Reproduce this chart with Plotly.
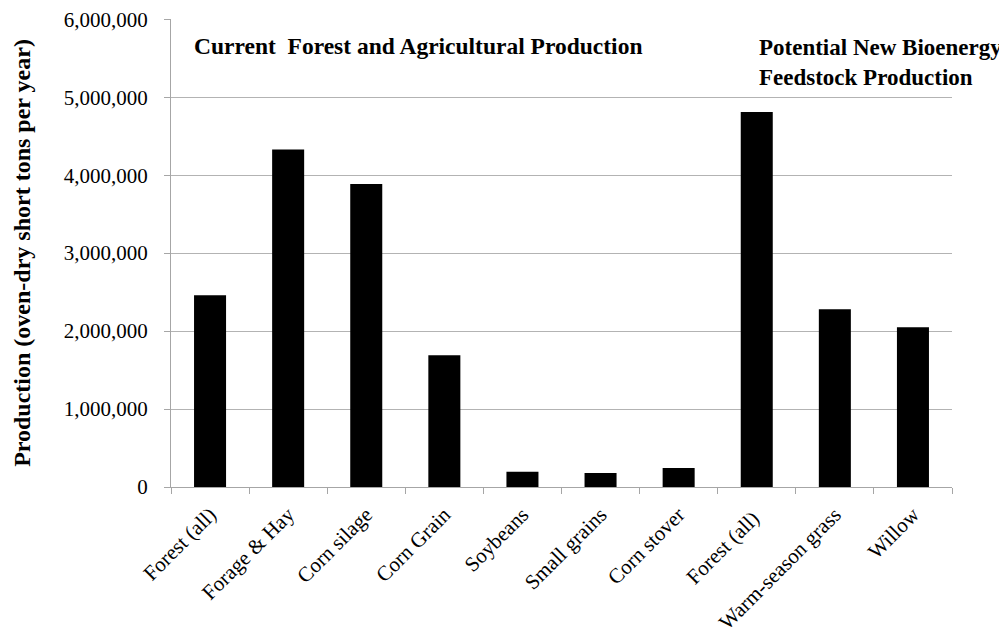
import plotly.graph_objects as go

categories = ["Forest (all)", "Forage & Hay", "Corn silage", "Corn Grain", "Soybeans",
              "Small grains", "Corn stover", "Forest (all) ", "Warm-season grass", "Willow"]
values = [2460000, 4330000, 3885000, 1690000, 195000, 180000, 245000, 4810000, 2280000, 2050000]
yticks = [0, 1000000, 2000000, 3000000, 4000000, 5000000, 6000000]

font_family = "Liberation Serif, Times New Roman, serif"

# page body has an 8px offset; target plot area: x 171..952, y 19..487
OFF = 8
W, H = 1007 - OFF, 638 - OFF
L, T = 171 - OFF, 19 - OFF
R = W - (952 - OFF)
B = H - (487 - OFF)
PW, PH = 952 - 171, 487 - 19

fig = go.Figure()
fig.add_trace(go.Bar(x=categories, y=values, marker=dict(color="black", line=dict(width=0)),
                     width=0.41, showlegend=False))

fig.update_layout(
    width=W, height=H,
    margin=dict(l=L, r=R, t=T, b=B, pad=0, autoexpand=False),
    plot_bgcolor="white", paper_bgcolor="white",
    font=dict(family=font_family, size=21, color="black"),
    xaxis=dict(
        automargin=False,
        tickangle=-45, tickfont=dict(size=21, family=font_family),
        showline=True, linecolor="#a6a6a6", linewidth=1,
        ticks="outside", tickson="boundaries", ticklen=6, tickcolor="#a6a6a6",
        ticklabelstandoff=6,
        showgrid=False,
    ),
    yaxis=dict(
        automargin=False,
        range=[0, 6000000 * 1.0005], tickvals=yticks, tickformat=",",
        tickfont=dict(size=21, family=font_family),
        showline=True, linecolor="#a6a6a6", linewidth=1,
        ticks="outside", ticklen=6, tickcolor="#a6a6a6",
        ticklabelstandoff=12, ticklabeloverflow="allow",
        showgrid=True, gridcolor="#b3b3b3", gridwidth=1,
        zeroline=False,
        title=dict(text="<b>Production (oven-dry short tons per year)</b>",
                   font=dict(size=24, family=font_family), standoff=26),
    ),
    annotations=[
        dict(text="<b>Current\u00a0 Forest and Agricultural Production</b>",
             xref="paper", yref="paper", x=(192 - 171) / PW, y=(487 - 46) / PH,
             xanchor="left", yanchor="middle", showarrow=False,
             font=dict(size=23.5, family=font_family)),
        dict(text="<b>Potential New Bioenergy<br>Feedstock Production</b>",
             xref="paper", yref="paper", x=(757 - 171) / PW, y=(487 - 62) / PH,
             xanchor="left", yanchor="middle", showarrow=False, align="left",
             font=dict(size=23, family=font_family)),
    ],
)

fig.write_html("out.html")
